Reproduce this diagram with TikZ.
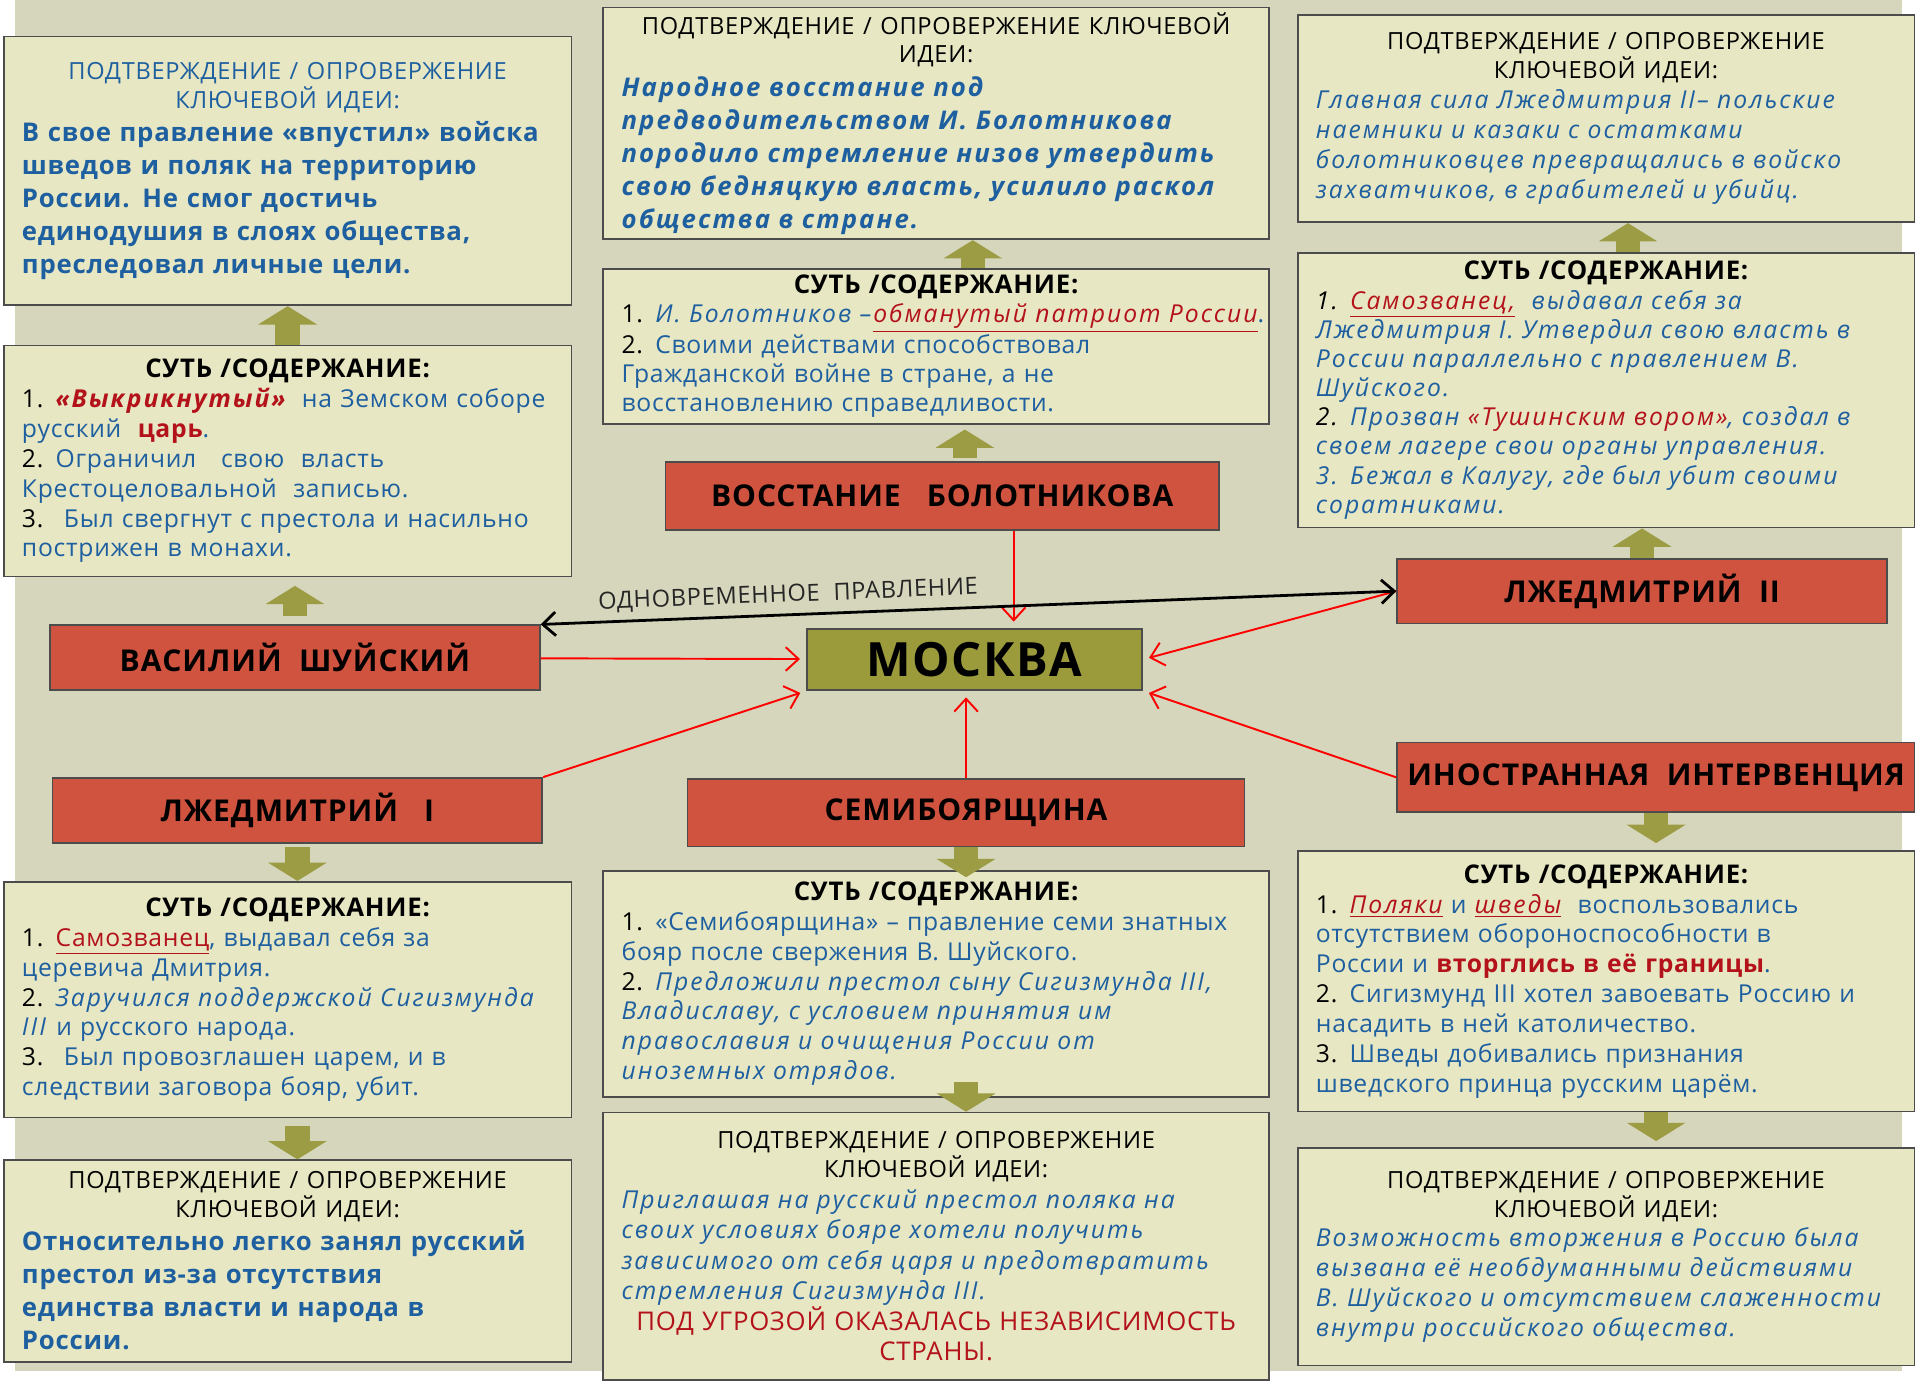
\documentclass[tikz,border=0pt]{standalone}
\usepackage{fontspec}
\setmainfont{Open Sans}[LetterSpace=3,
  ItalicFeatures={LetterSpace=8},BoldItalicFeatures={LetterSpace=8}]
\usetikzlibrary{positioning,arrows.meta}

\definecolor{bgolive}{HTML}{D6D6BC}
\definecolor{boxfill}{HTML}{E7E7C3}
\definecolor{redbox}{HTML}{D0533F}
\definecolor{moscow}{HTML}{9B9B3B}
\definecolor{arrolive}{HTML}{9C9C44}
\definecolor{txtblue}{HTML}{1E5FA0}
\definecolor{txtred}{HTML}{B3121A}

\newcommand{\ttl}[1]{{\centering\fontsize{11}{13.5}\selectfont\color{black}#1\par}}
\newcommand{\ttlb}[1]{{\centering\fontsize{12}{14}\selectfont\bfseries\color{black}#1\par}}
\newcommand{\nr}[1]{{\color{black}#1}}
\newcommand{\hl}[1]{{\color{txtred}#1}}
\newcommand{\hlu}[1]{{\color{txtred}\underline{#1}}}

\begin{document}
\begin{tikzpicture}[
        > = {Straight Barb[length=6pt,width=11pt]}, % open arrow heads
        shorten > = 2pt, % keep heads off the boxes
        node distance = 2cm, % distance between nodes
        semithick % line style
      ]

      \tikzstyle{info}=[rectangle,draw=black!70,fill=boxfill,line width=0.8pt,text=txtblue,
        align=left,inner xsep=0.3cm,inner ysep=0.08cm,font=\fontsize{11.5}{13.9}\selectfont]
      \tikzstyle{lbox}=[info,text width=8.7cm]
      \tikzstyle{mbox}=[info,text width=10.3cm]
      \tikzstyle{rbox}=[info,text width=9.5cm]
      \tikzstyle{event}=[rectangle,draw=black!70,fill=redbox,line width=0.8pt,minimum width=8.02cm,
        minimum height=1.06cm,font=\fontsize{14}{16}\selectfont\bfseries]
      \tikzstyle{link}=[->,draw=red,line width=0.9pt,shorten >=3pt]
      \tikzstyle{block}=[-{Triangle[width=0.95cm,length=0.3cm]},draw=arrolive,line width=0.4cm,
        shorten >=0pt]
      \tikzstyle{note}=[above,sloped,pos=0.29,font=\fontsize{11}{12}\selectfont,text=black!85]

      \useasboundingbox (0,0) rectangle (31.36,-22.64);
      \fill[bgolive] (0.24,0) rectangle (31.15,-22.45);

      % centre
      \node[event,fill=moscow,minimum width=5.48cm,minimum height=1cm,
        font=\fontsize{22}{24}\selectfont\bfseries] (moskva) at (15.96,-10.80) {МОСКВА};

      % middle column
      \node[event,minimum width=9.06cm,minimum height=1.12cm] (bolot) [above of=moskva, node distance=2.68cm, xshift=-0.53cm] {ВОССТАНИЕ~~~БОЛОТНИКОВА};
      \node[mbox,minimum height=2.54cm,font=\fontsize{11.5}{13.5}\selectfont] (M2) [above of=bolot, node distance=2.45cm, xshift=-0.10cm] {%
        \ttlb{СУТЬ /СОДЕРЖАНИЕ:}
        \mbox{\nr{1.} \textit{И. Болотников –}\hlu{\itshape обманутый патриот России}.}\\
        \nr{2.} Своими действами способствовал\\
        Гражданской войне в стране, а не\\
        восстановлению справедливости.};
      \node[mbox,minimum height=3.76cm,font=\fontsize{12}{15.4}\selectfont] (M1) [above of=M2, node distance=3.65cm] {%
        \ttl{ПОДТВЕРЖДЕНИЕ / ОПРОВЕРЖЕНИЕ КЛЮЧЕВОЙ\\ ИДЕИ:}
        \bfseries\itshape Народное восстание под\\
        предводительством И. Болотникова\\
        породило стремление низов утвердить\\
        свою бедняцкую власть, усилило раскол\\
        общества в стране.};
      \node[event,minimum width=9.12cm,minimum height=1.10cm] (semi) [below of=moskva, node distance=2.51cm, xshift=-0.14cm] {СЕМИБОЯРЩИНА};
      \node[mbox,minimum height=3.70cm] (M3) [below of=semi, node distance=2.80cm, xshift=-0.49cm] {%
        \ttlb{СУТЬ /СОДЕРЖАНИЕ:}
        \nr{1.} «Семибоярщина» – правление семи знатных\\
        бояр после свержения В. Шуйского.\\
        \nr{2.} \itshape Предложили престол сыну Сигизмунда III,\\
        Владиславу, с условием принятия им\\
        православия и очищения России от\\
        иноземных отрядов.};
      \node[mbox,minimum height=4.38cm,font=\fontsize{11.5}{14.2}\selectfont] (M4) [below of=M3, node distance=4.30cm] {%
        \ttl{ПОДТВЕРЖДЕНИЕ / ОПРОВЕРЖЕНИЕ\\ КЛЮЧЕВОЙ ИДЕИ:}
        {\itshape Приглашая на русский престол поляка на\\
        своих условиях бояре хотели получить\\
        зависимого от себя царя и предотвратить\\
        стремления Сигизмунда III.\par}
        {\centering\fontsize{12}{14.2}\selectfont\color{txtred}ПОД УГРОЗОЙ ОКАЗАЛАСЬ НЕЗАВИСИМОСТЬ\\ СТРАНЫ.\par}};

      % left column
      \node[event] (shuisky) [left of=moskva, node distance=11.13cm, yshift=0.03cm] {ВАСИЛИЙ~~ШУЙСКИЙ};
      \node[lbox,minimum height=3.78cm] (L2) [above of=shuisky, node distance=3.22cm, xshift=-0.12cm] {%
        \ttlb{СУТЬ /СОДЕРЖАНИЕ:}
        \nr{1.} \hl{\bfseries\itshape «Выкрикнутый»}~ на Земском соборе\\
        русский~ \hl{\bfseries царь}.\\
        \nr{2.} Ограничил~~ свою~ власть\\
        Крестоцеловальной~ записью.\\
        \nr{3.}~ Был свергнут с престола и насильно\\
        пострижен в монахи.};
      \node[lbox,minimum height=4.40cm,font=\fontsize{12}{15.4}\selectfont] (L1) [above of=L2, node distance=4.75cm] {%
        {\centering\fontsize{11}{13.5}\selectfont ПОДТВЕРЖДЕНИЕ / ОПРОВЕРЖЕНИЕ\\ КЛЮЧЕВОЙ ИДЕИ:\par}
        \bfseries В свое правление «впустил» войска\\
        шведов и поляк на территорию\\
        России. Не смог достичь\\
        единодушия в слоях общества,\\
        преследовал личные цели.};
      \node[event] (ld1) [below of=shuisky, node distance=2.50cm, xshift=0.04cm] {ЛЖЕДМИТРИЙ~~~I};
      \node[lbox,minimum height=3.86cm] (L3) [below of=ld1, node distance=3.10cm, xshift=-0.16cm] {%
        \ttlb{СУТЬ /СОДЕРЖАНИЕ:}
        \nr{1.} \hlu{Самозванец}, выдавал себя за\\
        церевича Дмитрия.\\
        \nr{2.} \textit{Заручился поддержской Сигизмунда}\\
        \textit{III} и русского народа.\\
        \nr{3.}~ Был провозглашен царем, и в\\
        следствии заговора бояр, убит.};
      \node[lbox,minimum height=3.30cm,font=\fontsize{12}{15.4}\selectfont] (L4) [below of=L3, node distance=4.28cm] {%
        \ttl{ПОДТВЕРЖДЕНИЕ / ОПРОВЕРЖЕНИЕ\\ КЛЮЧЕВОЙ ИДЕИ:}
        \bfseries Относительно легко занял русский\\
        престол из-за отсутствия\\
        единства власти и народа в\\
        России.};

      % right column
      \node[event] (ld2) [right of=moskva, node distance=10.93cm, yshift=1.12cm] {ЛЖЕДМИТРИЙ~~II};
      \node[rbox,minimum height=4.50cm,font=\fontsize{11.5}{13.6}\selectfont] (R2) [above of=ld2, node distance=3.29cm, xshift=-0.59cm] {%
        \ttlb{СУТЬ /СОДЕРЖАНИЕ:}
        \itshape\nr{1.} \hlu{Самозванец,}~ выдавал себя за\\
        Лжедмитрия I. Утвердил свою власть в\\
        России параллельно с правлением В.\\
        Шуйского.\\
        \nr{2.} Прозван \hl{«Тушинским вором»}, создал в\\
        своем лагере свои органы управления.\\
        3. Бежал в Калугу, где был убит своими\\
        соратниками.};
      \node[rbox,minimum height=3.40cm] (R1) [above of=R2, node distance=4.45cm] {%
        \ttl{ПОДТВЕРЖДЕНИЕ / ОПРОВЕРЖЕНИЕ\\ КЛЮЧЕВОЙ ИДЕИ:}
        \itshape Главная сила Лжедмитрия II– польские\\
        наемники и казаки с остатками\\
        болотниковцев превращались в войско\\
        захватчиков, в грабителей и убийц.};
      \node[event,minimum width=8.48cm,minimum height=1.14cm] (inter) [right of=moskva, node distance=11.16cm, yshift=-1.93cm] {ИНОСТРАННАЯ~~ИНТЕРВЕНЦИЯ};
      \node[rbox,minimum height=4.26cm] (R3) [below of=inter, node distance=3.34cm, xshift=-0.82cm] {%
        \ttlb{СУТЬ /СОДЕРЖАНИЕ:}
        \nr{1.} \hlu{\itshape Поляки} и \hlu{\itshape шведы}~ воспользовались\\
        отсутствием обороноспособности в\\
        России и \hl{\bfseries вторглись в её границы}.\\
        \nr{2.} Сигизмунд III хотел завоевать Россию и\\
        насадить в ней католичество.\\
        \nr{3.} Шведы добивались признания\\
        шведского принца русским царём.};
      \node[rbox,minimum height=3.56cm] (R4) [below of=R3, node distance=4.51cm] {%
        \ttl{ПОДТВЕРЖДЕНИЕ / ОПРОВЕРЖЕНИЕ\\ КЛЮЧЕВОЙ ИДЕИ:}
        \itshape Возможность вторжения в Россию была\\
        вызвана её необдуманными действиями\\
        В. Шуйского и отсутствием слаженности\\
        внутри российского общества.};

      % olive block arrows
      \draw[block] (L2.north) -- (L2.north |- L1.south);
      \draw[block,shorten <=0.14cm,shorten >=0.14cm] (shuisky.north) -- (shuisky.north |- L2.south);
      \draw[block,shorten <=0.06cm] (ld1.south) -- (ld1.south |- L3.north);
      \draw[block,shorten <=0.12cm] (ld1.south |- L3.south) -- (ld1.south |- L4.north);
      \draw[block] ([xshift=0.6cm]M2.north) -- ([xshift=0.6cm]M2.north |- M1.south);
      \draw[block,shorten <=0.04cm,shorten >=0.08cm] ([xshift=0.37cm]bolot.north) -- ([xshift=0.37cm]bolot.north |- M2.south);
      \draw[block] (semi.south) -- ([yshift=-0.12cm]semi.south |- M3.north);
      \draw[block] ([yshift=0.26cm]semi.south |- M3.south) -- (semi.south |- M4.north);
      \draw[block] ([xshift=-0.23cm]ld2.north |- R2.north) -- ([xshift=-0.23cm]ld2.north |- R1.south);
      \draw[block] (ld2.north) -- (ld2.north |- R2.south);
      \draw[block,shorten >=0.12cm] (inter.south) -- (inter.south |- R3.north);
      \draw[block,shorten >=0.1cm] (inter.south |- R3.south) -- (inter.south |- R4.north);

      % red links into Moscow
      \path (shuisky) edge[link] (moskva);
      \path ([xshift=0.64cm]moskva.north |- bolot.south) edge[link] ([xshift=0.64cm]moskva.north);
      \path (semi.north) edge[link] (semi.north |- moskva.south);
      \path (ld1.north east) edge[link] (moskva.south west);
      \path (ld2.west) edge[link] (moskva.east);
      \path (inter.west) edge[link] (moskva.south east);

      \draw[<->,line width=1.3pt,shorten >=0pt] (shuisky.north east) -- node[note] {ОДНОВРЕМЕННОЕ~~ПРАВЛЕНИЕ} (ld2.west);

    \end{tikzpicture}
\end{document}
